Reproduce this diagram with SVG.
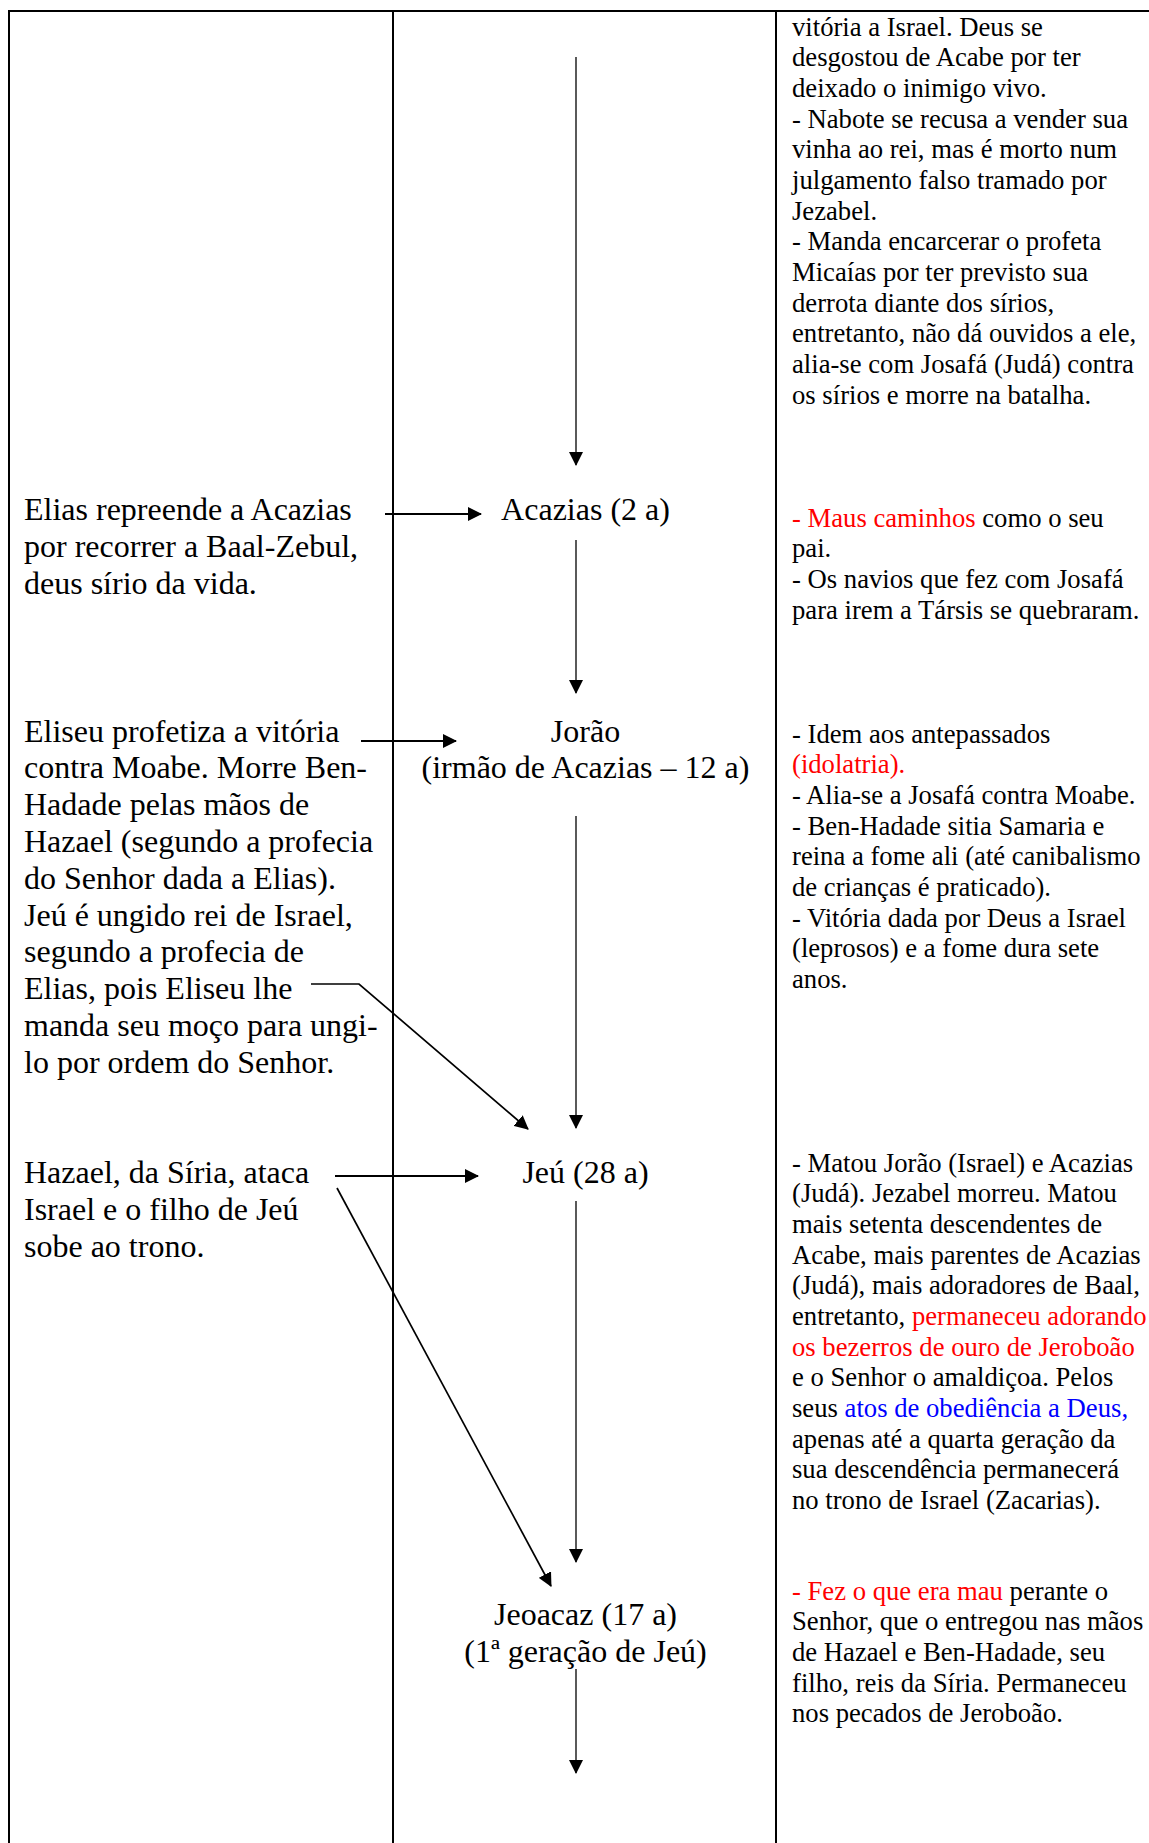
<svg xmlns="http://www.w3.org/2000/svg" width="1149" height="1843" viewBox="0 0 1149 1843">
<style>
text { font-family: "Liberation Serif", "Times New Roman", serif; fill: #000; }
.l { font-size: 32px; }
.m { font-size: 32px; text-anchor: middle; }
.r { font-size: 26.67px; }
.red { fill: #FF0000; }
.blue { fill: #0000FF; }
.grid { stroke: #000; stroke-width: 2; fill: none; }
.c { stroke: #000; fill: none; }
.thin { stroke-width: 1.3; }
.thick { stroke-width: 2.2; }
.diag { stroke-width: 1.7; }
</style>
<defs>
<marker id="ah" markerUnits="userSpaceOnUse" markerWidth="14" markerHeight="14" refX="13" refY="7" orient="auto" viewBox="0 0 14 14">
<path d="M0,0 L14,7 L0,14 Z" fill="#000"/>
</marker>
</defs>
<rect x="0" y="0" width="1149" height="1843" fill="#fff"/>

<g id="table">
<path class="grid" d="M8,11 H1149"/>
<path class="grid" d="M9,10 V1843"/>
<path class="grid" d="M393,10 V1843"/>
<path class="grid" d="M776,10 V1843"/>
</g>

<g id="connectors">
<path class="c thin" d="M576,57 V465" marker-end="url(#ah)"/>
<path class="c thin" d="M576,540 V693" marker-end="url(#ah)"/>
<path class="c thin" d="M576,816 V1128" marker-end="url(#ah)"/>
<path class="c thin" d="M576,1201 V1562" marker-end="url(#ah)"/>
<path class="c thin" d="M576,1669 V1773" marker-end="url(#ah)"/>
<path class="c thick" d="M385,514 H481" marker-end="url(#ah)"/>
<path class="c thick" d="M361,741 H456" marker-end="url(#ah)"/>
<path class="c diag" d="M311,984 H359 L528,1129" marker-end="url(#ah)"/>
<path class="c thick" d="M335,1176 H478" marker-end="url(#ah)"/>
<path class="c diag" d="M337,1188 L551,1586" marker-end="url(#ah)"/>
</g>

<g id="note-elias">
<text class="l"><tspan x="24" y="520">Elias repreende a Acazias</tspan><tspan x="24" y="556.8">por recorrer a Baal-Zebul,</tspan><tspan x="24" y="593.6">deus sírio da vida.</tspan></text>
</g>

<g id="note-eliseu">
<text class="l"><tspan x="24" y="741.5">Eliseu profetiza a vitória</tspan><tspan x="24" y="778.3">contra Moabe. Morre Ben-</tspan><tspan x="24" y="815.1">Hadade pelas mãos de</tspan><tspan x="24" y="851.9">Hazael (segundo a profecia</tspan><tspan x="24" y="888.7">do Senhor dada a Elias).</tspan><tspan x="24" y="925.5">Jeú é ungido rei de Israel,</tspan><tspan x="24" y="962.3">segundo a profecia de</tspan><tspan x="24" y="999.1">Elias, pois Eliseu lhe</tspan><tspan x="24" y="1035.9">manda seu moço para ungi-</tspan><tspan x="24" y="1072.7">lo por ordem do Senhor.</tspan></text>
</g>

<g id="note-hazael">
<text class="l"><tspan x="24" y="1183">Hazael, da Síria, ataca</tspan><tspan x="24" y="1219.8">Israel e o filho de Jeú</tspan><tspan x="24" y="1256.6">sobe ao trono.</tspan></text>
</g>

<g id="acazias">
<text class="m" x="585.5" y="520">Acazias (2 a)</text>
</g>

<g id="jorao">
<text class="m"><tspan x="585.5" y="741.5">Jorão</tspan><tspan x="585.5" y="778.3">(irmão de Acazias – 12 a)</tspan></text>
</g>

<g id="jeu">
<text class="m" x="585.5" y="1183">Jeú (28 a)</text>
</g>

<g id="jeoacaz">
<text class="m"><tspan x="585.5" y="1625">Jeoacaz (17 a)</tspan><tspan x="585.5" y="1661.8">(1ª geração de Jeú)</tspan></text>
</g>

<g id="desc-acabe">
<text class="r"><tspan x="792" y="35.5">vitória a Israel. Deus se</tspan><tspan x="792" y="66.17">desgostou de Acabe por ter</tspan><tspan x="792" y="96.83">deixado o inimigo vivo.</tspan><tspan x="792" y="127.5">- Nabote se recusa a vender sua</tspan><tspan x="792" y="158.17">vinha ao rei, mas é morto num</tspan><tspan x="792" y="188.83">julgamento falso tramado por</tspan><tspan x="792" y="219.5">Jezabel.</tspan><tspan x="792" y="250.17">- Manda encarcerar o profeta</tspan><tspan x="792" y="280.83">Micaías por ter previsto sua</tspan><tspan x="792" y="311.5">derrota diante dos sírios,</tspan><tspan x="792" y="342.17">entretanto, não dá ouvidos a ele,</tspan><tspan x="792" y="372.83">alia-se com Josafá (Judá) contra</tspan><tspan x="792" y="403.5">os sírios e morre na batalha.</tspan></text>
</g>

<g id="desc-acazias">
<text class="r"><tspan x="792" y="526.5"><tspan class="red">- Maus caminhos</tspan> como o seu</tspan><tspan x="792" y="557.17">pai.</tspan><tspan x="792" y="587.83">- Os navios que fez com Josafá</tspan><tspan x="792" y="618.5">para irem a Társis se quebraram.</tspan></text>
</g>

<g id="desc-jorao">
<text class="r"><tspan x="792" y="742.5">- Idem aos antepassados</tspan><tspan x="792" y="773.17" class="red">(idolatria).</tspan><tspan x="792" y="803.83">- Alia-se a Josafá contra Moabe.</tspan><tspan x="792" y="834.5">- Ben-Hadade sitia Samaria e</tspan><tspan x="792" y="865.17">reina a fome ali (até canibalismo</tspan><tspan x="792" y="895.83">de crianças é praticado).</tspan><tspan x="792" y="926.5">- Vitória dada por Deus a Israel</tspan><tspan x="792" y="957.17">(leprosos) e a fome dura sete</tspan><tspan x="792" y="987.83">anos.</tspan></text>
</g>

<g id="desc-jeu">
<text class="r"><tspan x="792" y="1171.5">- Matou Jorão (Israel) e Acazias</tspan><tspan x="792" y="1202.17">(Judá). Jezabel morreu. Matou</tspan><tspan x="792" y="1232.83">mais setenta descendentes de</tspan><tspan x="792" y="1263.5">Acabe, mais parentes de Acazias</tspan><tspan x="792" y="1294.17">(Judá), mais adoradores de Baal,</tspan><tspan x="792" y="1324.83">entretanto, <tspan class="red">permaneceu adorando</tspan></tspan><tspan x="792" y="1355.5" class="red">os bezerros de ouro de Jeroboão</tspan><tspan x="792" y="1386.17">e o Senhor o amaldiçoa. Pelos</tspan><tspan x="792" y="1416.83">seus <tspan class="blue">atos de obediência a Deus,</tspan></tspan><tspan x="792" y="1447.5">apenas até a quarta geração da</tspan><tspan x="792" y="1478.17">sua descendência permanecerá</tspan><tspan x="792" y="1508.83">no trono de Israel (Zacarias).</tspan></text>
</g>

<g id="desc-jeoacaz">
<text class="r"><tspan x="792" y="1599.5"><tspan class="red">- Fez o que era mau</tspan> perante o</tspan><tspan x="792" y="1630.17">Senhor, que o entregou nas mãos</tspan><tspan x="792" y="1660.83">de Hazael e Ben-Hadade, seu</tspan><tspan x="792" y="1691.5">filho, reis da Síria. Permaneceu</tspan><tspan x="792" y="1722.17">nos pecados de Jeroboão.</tspan></text>
</g>
</svg>
